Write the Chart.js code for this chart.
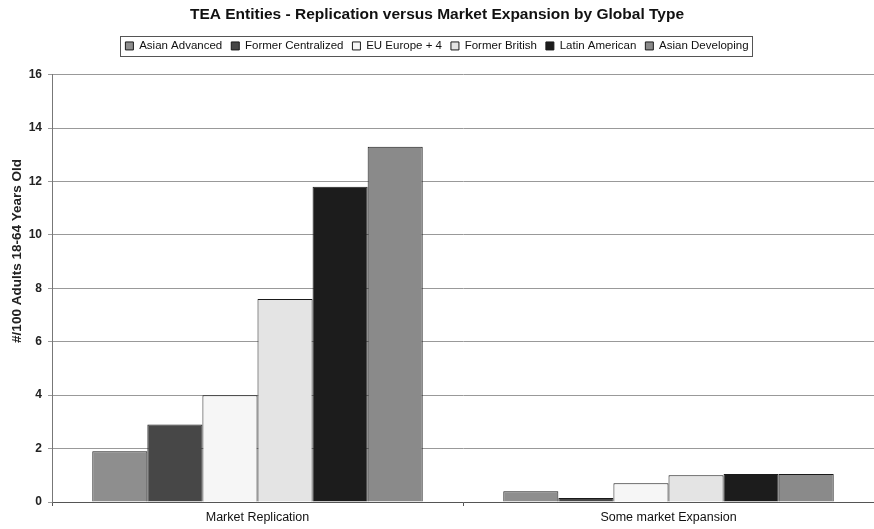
<!DOCTYPE html>
<html>
<head>
<meta charset="utf-8">
<title>TEA Entities</title>
<script src="https://cdn.jsdelivr.net/npm/chart.js@4.4.0/dist/chart.umd.min.js"></script>
<style>
    body { margin: 0; background: #fff; }
    #wrap { width: 874px; height: 529px; }
</style>
</head>
<body>
<div id="wrap"><canvas id="teaChart" width="874" height="529"></canvas></div>
<script>
// categories on the x axis
var categories = ['Market Replication', 'Some market Expansion'];

// one array per global type, same order as categories
var asianAdvanced = [1.9, 0.4];
var formerCentralized = [2.9, 0.15];
var euEurope = [4.0, 0.7];
var formerBritish = [7.6, 1.0];
var latinAmerican = [11.8, 1.05];
var asianDeveloping = [13.3, 1.05];

var seriesNames = ['Asian Advanced', 'Former Centralized', 'EU Europe + 4', 'Former British', 'Latin American', 'Asian Developing'];
var seriesColors = ['#8e8e8e', '#474747', '#f6f6f6', '#e4e4e4', '#1c1c1c', '#8a8a8a'];
var seriesValues = [asianAdvanced, formerCentralized, euEurope, formerBritish, latinAmerican, asianDeveloping];

var yMin = 0, yMax = 16, yStep = 2;
var yTitle = '#/100 Adults 18-64 Years Old';

Chart.defaults.font.family = '"Liberation Sans", Arial, sans-serif';
Chart.defaults.color = '#111';

var datasets = seriesNames.map(function (name, i) {
    return {
        label: name,
        data: seriesValues[i],
        backgroundColor: seriesColors[i],
        borderColor: '#1a1a1a',
        borderWidth: 1
    };
});

// frame round the legend, extra gap under it, and the y axis title
var chartExtras = {
    id: 'chartExtras',
    beforeUpdate: function (chart) {
        if (chart.legend && !chart.legend._padded) {
            var fit = chart.legend.fit;
            chart.legend.fit = function () {
                fit.call(this);
                this.height += 13;
            };
            chart.legend._padded = true;
        }
    },
    afterDraw: function (chart) {
        var ctx = chart.ctx;
        var boxes = chart.legend && chart.legend.legendHitBoxes;
        if (boxes && boxes.length) {
            var left = boxes[0].left, right = 0, top = boxes[0].top, bottom = 0;
            boxes.forEach(function (b) {
                left = Math.min(left, b.left);
                right = Math.max(right, b.left + b.width);
                top = Math.min(top, b.top);
                bottom = Math.max(bottom, b.top + b.height);
            });
            ctx.save();
            ctx.strokeStyle = '#555';
            ctx.lineWidth = 1;
            ctx.strokeRect(Math.round(left - 5) + 0.5, Math.round(top - 4) + 0.5,
                Math.round(right - left + 9), Math.round(bottom - top + 8));
            ctx.restore();
        }

        // axis title sits a bit above the middle of the axis
        var y = chart.scales.y;
        ctx.save();
        ctx.translate(17, y.getPixelForValue(9.4));
        ctx.rotate(-Math.PI / 2);
        ctx.font = 'bold 13.5px "Liberation Sans", Arial, sans-serif';
        ctx.fillStyle = '#222';
        ctx.textAlign = 'center';
        ctx.textBaseline = 'middle';
        ctx.fillText(yTitle, 0, 0);
        ctx.restore();
    }
};

var ctx = document.getElementById('teaChart');
var barChart = new Chart(ctx, {
    type: 'bar',
    data: { labels: categories, datasets: datasets },
    plugins: [chartExtras],
    options: {
        responsive: false,
        animation: false,
        devicePixelRatio: 1,
        layout: { padding: 0 },
        datasets: {
            bar: { categoryPercentage: 0.804, barPercentage: 1.0 }
        },
        plugins: {
            title: {
                display: true,
                text: 'TEA Entities - Replication versus Market Expansion by Global Type',
                font: { size: 15.5, weight: 'bold' },
                color: '#111',
                padding: { top: 5, bottom: 7.6 }
            },
            legend: {
                display: true,
                position: 'top',
                labels: {
                    boxWidth: 8,
                    boxHeight: 8,
                    padding: 9,
                    font: { size: 11.5 },
                    color: '#111'
                }
            },
            tooltip: { enabled: false }
        },
        scales: {
            x: {
                grid: {
                    offset: true,
                    drawOnChartArea: false,
                    tickLength: 4,
                    color: '#555'
                },
                border: { color: '#555', width: 1 },
                ticks: { font: { size: 12.5 }, color: '#111', padding: 4 },
                afterFit: function (axis) { axis.height = 27; }
            },
            y: {
                min: yMin,
                max: yMax,
                ticks: { stepSize: yStep, font: { size: 12, weight: 'bold' }, color: '#222', padding: 6 },
                grid: { color: '#999', tickLength: 4 },
                border: { color: '#777', width: 1 },
                afterFit: function (axis) { axis.width = 52; }
            }
        }
    }
});
</script>
</body>
</html>
